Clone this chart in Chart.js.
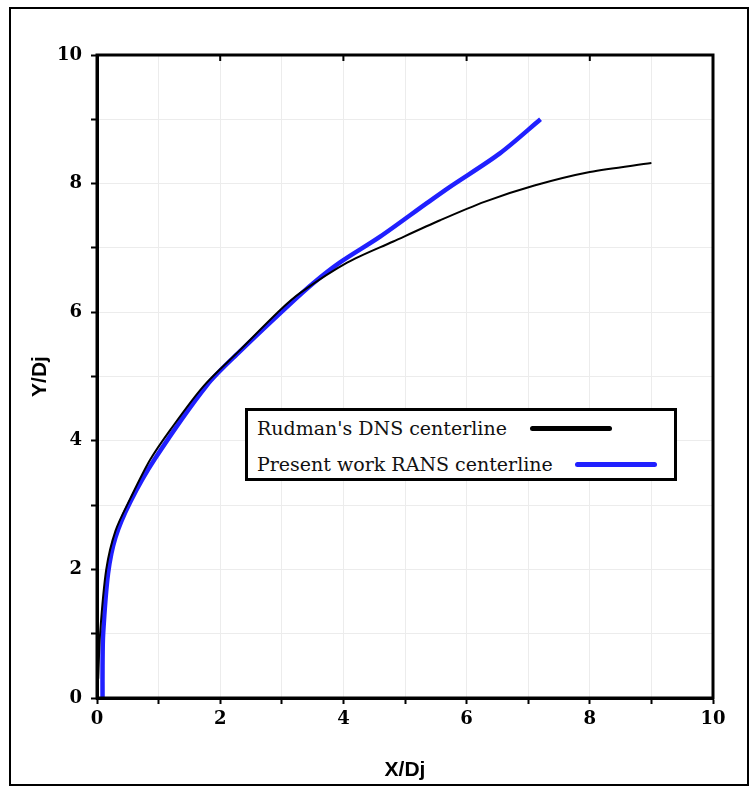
<!DOCTYPE html>
<html>
<head>
<meta charset="utf-8">
<script src="https://cdn.jsdelivr.net/npm/chart.js@4/dist/chart.umd.min.js"></script>
<style>
    body { margin: 0; background: #fff; }
    #wrap { position: relative; width: 755px; height: 789px; }
    #frame { position: absolute; left: 9px; top: 7px; width: 736px; height: 775px; border: 2px solid #000; }
    #chart { position: absolute; left: 0; top: 0; }
    #legend { position: absolute; left: 245px; top: 408px; width: 426px; height: 67px; border: 3px solid #000; background: #fff; }
    #legend ul { margin: 0; padding: 0; list-style: none; }
    #legend li { position: absolute; left: 9px; display: flex; align-items: center; font-family: "DejaVu Serif", serif; font-size: 19px; color: #111; white-space: nowrap; }
</style>
</head>
<body>
<div id="wrap">
    <div id="frame"></div>
    <canvas id="chart" width="755" height="789"></canvas>
    <div id="legend"></div>
</div>
<script>
// Rudman's DNS centerline
const dnsX = [0.02, 0.05, 0.15, 0.3, 0.54, 0.86, 1.19, 1.72, 2.32, 2.97, 3.3, 4.06, 4.81, 5.57, 6.3, 7.1, 8.0, 9.0];
const dnsY = [0.3, 1.0, 2.0, 2.6, 3.1, 3.7, 4.17, 4.84, 5.41, 6.03, 6.3, 6.77, 7.1, 7.43, 7.72, 7.97, 8.18, 8.32];
// Present work RANS centerline
const ransX = [0.09, 0.09, 0.1, 0.18, 0.3, 0.54, 0.94, 1.78, 2.32, 3.08, 3.51, 3.94, 4.59, 5.36, 5.73, 6.54, 7.2];
const ransY = [0.0, 0.5, 1.0, 1.94, 2.5, 3.05, 3.72, 4.86, 5.39, 6.08, 6.45, 6.77, 7.17, 7.70, 7.95, 8.47, 9.0];

const seriesLabels = ["Rudman's DNS centerline", "Present work RANS centerline"];
const xTicks = [0, 2, 4, 6, 8, 10];
const yTicks = [0, 2, 4, 6, 8, 10];

const toPoints = (xs, ys) => xs.map((x, i) => ({x: x, y: ys[i]}));

const tickFont = {family: "DejaVu Serif", size: 18, weight: "bold"};
const titleFont = {family: "Liberation Sans", size: 21, weight: "bold"};

// 범례 (html)
const htmlLegendPlugin = {
    id: 'htmlLegend',
    afterUpdate(chart) {
        const box = document.getElementById('legend');
        let ul = box.querySelector('ul');
        if (!ul) {
            ul = document.createElement('ul');
            box.appendChild(ul);
        }
        while (ul.firstChild) {
            ul.firstChild.remove();
        }
        const items = chart.options.plugins.legend.labels.generateLabels(chart);
        const rowTop = [2, 38];
        const lineLeft = [273, 318];
        items.forEach((item, i) => {
            const li = document.createElement('li');
            li.style.top = rowTop[i] + 'px';
            li.style.height = '30px';

            const text = document.createElement('span');
            text.textContent = item.text;

            const line = document.createElement('span');
            line.style.position = 'absolute';
            line.style.left = lineLeft[i] + 'px';
            line.style.top = '13px';
            line.style.width = '82px';
            line.style.height = '5px';
            line.style.borderRadius = '3px';
            line.style.background = item.strokeStyle;

            li.appendChild(text);
            li.appendChild(line);
            ul.appendChild(li);
        });
    }
};

// 플롯 테두리 + 위쪽 안쪽 눈금
const framePlugin = {
    id: 'plotFrame',
    afterDraw(chart) {
        const {ctx, chartArea: a, scales} = chart;
        ctx.save();
        ctx.strokeStyle = '#000';
        ctx.lineWidth = 3;
        ctx.strokeRect(a.left, a.top, a.right - a.left, a.bottom - a.top);
        ctx.lineWidth = 2;
        xTicks.forEach(v => {
            const px = scales.x.getPixelForValue(v);
            ctx.beginPath();
            ctx.moveTo(px, a.top);
            ctx.lineTo(px, a.top + 6);
            ctx.stroke();
        });
        ctx.restore();
    }
};

const config = {
    type: 'scatter',
    data: {
        datasets: [{
            label: seriesLabels[0],
            data: toPoints(dnsX, dnsY),
            showLine: true,
            borderColor: '#000000',
            backgroundColor: '#000000',
            borderWidth: 2,
            pointRadius: 0,
            tension: 0.3,
            order: 1
        }, {
            label: seriesLabels[1],
            data: toPoints(ransX, ransY),
            showLine: true,
            borderColor: '#2020ff',
            backgroundColor: '#2020ff',
            borderWidth: 4.5,
            pointRadius: 0,
            tension: 0.3,
            order: 2
        }]
    },
    plugins: [htmlLegendPlugin, framePlugin],
    options: {
        responsive: false,
        animation: false,
        layout: {padding: {left: 0, top: 55, right: 42, bottom: 0}},
        plugins: {
            legend: {display: false},
            tooltip: {enabled: false}
        },
        scales: {
            x: {
                type: 'linear',
                min: 0,
                max: 10,
                afterFit(scale) { scale.height = 91; },
                ticks: {
                    stepSize: 1,
                    color: '#000',
                    font: tickFont,
                    padding: 5,
                    maxRotation: 0,
                    callback: v => xTicks.includes(v) ? v : ''
                },
                grid: {color: '#ececec', tickColor: '#000', tickLength: 6, tickWidth: 2},
                border: {display: true, color: '#000', width: 3},
                title: {display: true, text: 'X/Dj', color: '#000', font: titleFont, padding: {top: 0, bottom: 6}}
            },
            y: {
                type: 'linear',
                min: 0,
                max: 10,
                afterFit(scale) { scale.width = 97; },
                ticks: {
                    stepSize: 1,
                    color: '#000',
                    font: tickFont,
                    padding: 9,
                    callback: v => yTicks.includes(v) ? v : ''
                },
                grid: {color: '#ececec', tickColor: '#000', tickLength: 6, tickWidth: 2},
                border: {display: true, color: '#000', width: 3},
                title: {display: true, text: 'Y/Dj', color: '#000', font: titleFont, padding: {top: 28, bottom: 0}}
            }
        }
    }
};

const canvas = document.getElementById('chart');
const myChart = new Chart(canvas.getContext('2d'), config);
</script>
</body>
</html>
